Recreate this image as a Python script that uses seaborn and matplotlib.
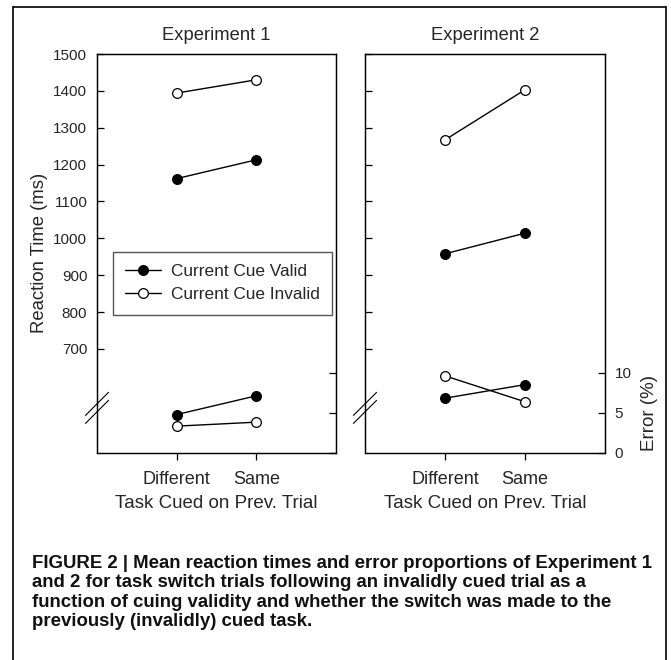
import numpy as np
import pandas as pd
import seaborn as sns
import matplotlib.pyplot as plt
from matplotlib.lines import Line2D

# data
conditions = ['Different', 'Same']
rt_ticks = [700, 800, 900, 1000, 1100, 1200, 1300, 1400, 1500]
err_ticks = [0, 5, 10]

exp1_rt_valid = [1162, 1213]
exp1_rt_invalid = [1394, 1430]
exp1_err_valid = [4.75, 7.1]
exp1_err_invalid = [3.3, 3.8]

exp2_rt_valid = [958, 1014]
exp2_rt_invalid = [1267, 1403]
exp2_err_valid = [6.8, 8.5]
exp2_err_invalid = [9.6, 6.35]

labels = ['Current Cue Valid', 'Current Cue Invalid']
caption = ("FIGURE 2 | Mean reaction times and error proportions of Experiment 1\n"
           "and 2 for task switch trials following an invalidly cued trial as a\n"
           "function of cuing validity and whether the switch was made to the\n"
           "previously (invalidly) cued task.")

sns.set_style('ticks')
plt.rcParams['font.family'] = ['Liberation Sans', 'DejaVu Sans']

fig = plt.figure(figsize=(6.71, 6.60), dpi=100)
W, H = 671, 660
ax_top, ax_bot = 54, 452.5
ax1 = fig.add_axes([97 / W, 1 - ax_bot / H, 239 / W, (ax_bot - ax_top) / H])
ax2 = fig.add_axes([365 / W, 1 - ax_bot / H, 240 / W, (ax_bot - ax_top) / H])

styles = {
    'valid': dict(marker='o', color='black', markerfacecolor='black'),
    'invalid': dict(marker='o', color='black', markerfacecolor='white'),
}

panels = [
    (ax1, 'Experiment 1', exp1_rt_valid, exp1_rt_invalid, exp1_err_valid, exp1_err_invalid),
    (ax2, 'Experiment 2', exp2_rt_valid, exp2_rt_invalid, exp2_err_valid, exp2_err_invalid),
]

for i, (ax, title, rtv, rti, erv, eri) in enumerate(panels):
    df = pd.DataFrame({'cond': conditions, 'rtv': rtv, 'rti': rti, 'erv': erv, 'eri': eri})
    axe = ax.twinx()
    common = dict(markersize=7, markeredgecolor='black', markeredgewidth=0.9, lw=1.0)
    sns.lineplot(data=df, x='cond', y='rtv', ax=ax, label=labels[0], **styles['valid'], **common)
    sns.lineplot(data=df, x='cond', y='rti', ax=ax, label=labels[1], **styles['invalid'], **common)
    sns.lineplot(data=df, x='cond', y='erv', ax=axe, **styles['valid'], **common)
    sns.lineplot(data=df, x='cond', y='eri', ax=axe, **styles['invalid'], **common)
    for a in (ax, axe):
        if a.get_legend() is not None:
            a.get_legend().remove()

    ax.set_xlim(-1, 2)
    ax.set_ylim(419, 1500)
    axe.set_ylim(0, 49.9)
    ax.set_yticks(rt_ticks)
    axe.set_yticks(err_ticks)
    ax.set_xticks(range(len(conditions)))
    ax.set_xticklabels(conditions, fontsize=13)
    ax.tick_params(axis='x', direction='out', length=5, width=0.9, pad=8.5, color='black')
    ax.tick_params(axis='y', direction='in', length=5, width=0.9, pad=7, labelsize=11, color='black')
    axe.tick_params(axis='y', direction='in', length=5, width=0.9, pad=7, labelsize=11, color='black')
    ax.set_xlabel('Task Cued on Prev. Trial', fontsize=13.5, labelpad=4.5)
    ax.set_title(title, fontsize=13.2, pad=10)
    for a in (ax, axe):
        for s in a.spines.values():
            s.set_visible(True)
            s.set_color('black')
            s.set_linewidth(0.9)

    if i == 0:
        ax.set_ylabel('Reaction Time (ms)', fontsize=13.3, labelpad=4)
        axe.set_yticklabels([])
        axe.set_ylabel('')
    else:
        ax.set_yticklabels([])
        ax.set_ylabel('')
        axe.set_ylabel('Error (%)', fontsize=13.5)
        axe.yaxis.set_label_coords(1.15, 0.098)

    # axis break marks on the left spine
    bx, by = 11.5 / 239, 11.5 / 398
    for off in (4 / 398, -4 / 398):
        yc = 0.112 + off
        ax.plot([-bx, bx], [yc - by, yc + by], transform=ax.transAxes,
                color='black', lw=0.8, clip_on=False)

# legend
handles = [Line2D([], [], lw=1.0, markersize=7, markeredgecolor='black',
                  markeredgewidth=0.9, **styles[k]) for k in ('valid', 'invalid')]
fig.legend(handles, labels, loc='upper left', bbox_to_anchor=(112.7 / W, 1 - 252 / H),
           borderaxespad=0, fontsize=12.4, frameon=True, fancybox=False,
           edgecolor='#555555', framealpha=1, borderpad=0.72, labelspacing=0.45,
           handlelength=2.1, handletextpad=0.55)

# caption
fig.text(32 / W, 1 - 555 / H, caption, fontsize=13.4, fontweight='bold', va='top', ha='left',
         linespacing=1.19, color='#111111')

# outer frame
for xs, ys in [([13 / W, 13 / W], [0, 1 - 7 / H]),
               ([13 / W, 666 / W], [1 - 7 / H, 1 - 7 / H]),
               ([666 / W, 666 / W], [0, 1 - 7 / H])]:
    fig.add_artist(Line2D(xs, ys, color='black', lw=1.2))

fig.savefig('out.png', dpi=100)
